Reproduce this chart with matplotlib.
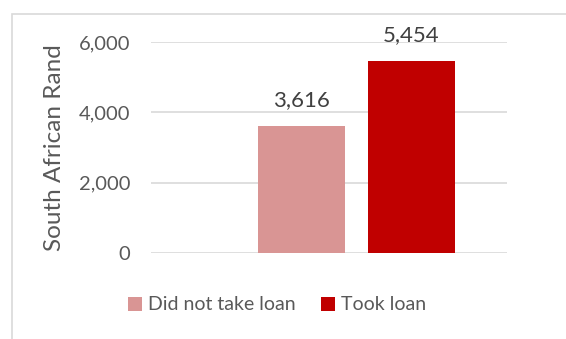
import matplotlib.pyplot as plt
from matplotlib.patches import Rectangle
from matplotlib.ticker import FuncFormatter, MultipleLocator

series = ["Did not take loan", "Took loan"]
values = [3616, 5454]
colors = ["#D99594", "#C00000"]
positions = [-0.077, 0.232]

plt.rcParams["font.family"] = ["Lato", "DejaVu Sans"]
txt = "#595959"

W, H = 566, 339
fig = plt.figure(figsize=(W / 100, H / 100), dpi=100)

# chart area border
fig.patches.append(Rectangle((12 / W, 0 - 0.01), 1.0, 1 - 14 / H + 0.01,
                             transform=fig.transFigure, fill=False,
                             edgecolor="#D9D9D9", linewidth=1.2))

ax = fig.add_axes([151 / W, 1 - 253 / H, 356 / W, (253 - 42) / H])
for p, v, c, s in zip(positions, values, colors, series):
    ax.bar(p, v, width=0.244, color=c, label=s, zorder=3)
    ax.text(p, v + 740, f"{v:,}", ha="center", va="center",
            fontsize=16, color="#404040")

ax.set_xlim(-0.5, 0.5)
ax.set_ylim(0, 6000)
ax.yaxis.set_major_locator(MultipleLocator(2000))
ax.yaxis.set_major_formatter(FuncFormatter(lambda v, _: f"{int(v):,}"))
ax.grid(axis="y", color="#D9D9D9", linewidth=1.2, zorder=0)
ax.set_xticks([])
for sp in ax.spines.values():
    sp.set_visible(False)
ax.tick_params(axis="y", length=0, labelsize=14.5, labelcolor=txt, pad=15)
ax.set_ylabel("South African Rand", fontsize=17.5, color=txt)
ax.yaxis.set_label_coords(65 / W, 1 - 148 / H, transform=fig.transFigure)

fig.legend(loc="center", bbox_to_anchor=(277 / W, 1 - 305 / H), ncol=2,
           frameon=False, fontsize=14, labelcolor=txt, handlelength=0.75,
           handleheight=0.75, handletextpad=0.3, columnspacing=1.3)

fig.savefig("out.png", dpi=100)
